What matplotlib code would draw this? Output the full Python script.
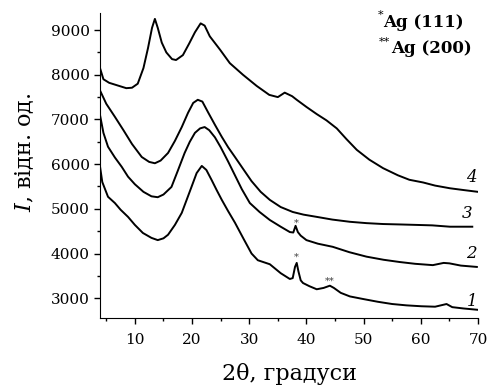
import numpy as np
import matplotlib
matplotlib.use("Agg")
import matplotlib.pyplot as plt
from matplotlib.ticker import MultipleLocator

plt.rcParams['font.family'] = 'DejaVu Serif'
plt.rcParams['mathtext.fontset'] = 'dejavuserif'

# ================= DATA =================
x4 = [3.9, 4.5, 5.5, 7, 8.5, 9.5, 10.5, 11.5, 12.3, 13.0, 13.5, 14.0, 14.7, 15.5,
      16.5, 17.2, 18.4, 19.5, 20.5, 21.5, 22.2, 23.1, 24.9, 26.6, 28.9, 31.3,
      33.5, 35, 36.2, 37.5, 38.3, 40, 41.8, 43.5, 45.3, 47, 48.8, 51, 53.4, 56,
      58, 60.4, 62.5, 65.1, 67.5, 70]
y4 = [8150, 7900, 7820, 7760, 7700, 7710, 7800, 8150, 8600, 9050, 9250, 9050, 8720, 8500,
      8350, 8330, 8440, 8700, 8950, 9150, 9100, 8860, 8560, 8260, 8000, 7750,
      7550, 7500, 7600, 7520, 7440, 7280, 7120, 6980, 6800, 6560, 6320, 6100, 5910, 5750,
      5650, 5590, 5520, 5460, 5420, 5380]

x3 = [3.9, 5, 6.5, 8, 9.5, 11.2, 12.5, 13.5, 14.5, 15.8, 17, 18.2, 19.3, 20.2, 21,
      21.8, 22.8, 24, 25.2, 26.3, 27.5, 29, 30.4, 32, 33.6, 35.5, 37.6, 39.5, 41.8,
      44.5, 47.6, 50.5, 53.4, 56.5, 59.3, 62, 65.1, 67, 69]
y3 = [7650, 7350, 7060, 6760, 6450, 6160, 6050, 6020, 6080, 6250, 6520, 6830, 7150, 7370, 7440,
      7400, 7160, 6880, 6610, 6380, 6160, 5880, 5620, 5380, 5200, 5040, 4930, 4870, 4820,
      4760, 4710, 4680, 4660, 4650, 4640, 4630, 4600, 4600, 4600]

x2 = [3.9, 4.5, 5.3, 6.5, 7.7, 8.8, 10, 11.5, 12.9, 14, 15, 16.4, 17.5, 18.7, 19.6,
      20.5, 21.4, 22.2, 23, 24, 25, 26.3, 27.5, 28.7, 30.1, 31.8, 33.6, 35.5, 37.1,
      37.7, 38.1, 38.5, 39, 40, 42, 44.6, 47.5, 50.5, 53.5, 56.3, 59, 62.1, 64, 65,
      67, 69.8]
y2 = [7100, 6700, 6390, 6150, 5940, 5720, 5550, 5380, 5280, 5260, 5320, 5490, 5850, 6250, 6500,
      6700, 6800, 6830, 6760, 6600, 6380, 6060, 5750, 5440, 5130, 4930, 4750, 4600, 4480,
      4470, 4620, 4480, 4400, 4300, 4220, 4150, 4030, 3930, 3860, 3810, 3770, 3740, 3790, 3780,
      3730, 3700]

x1 = [3.9, 4.3, 5.3, 6.5, 7.5, 8.8, 10, 11.4, 12.9, 14, 15, 15.8, 17, 18.2, 19.9,
      20.8, 21.7, 22.5, 23.4, 24.3, 25.2, 26.3, 27.5, 29, 30.4, 31.5, 33.6, 35.5,
      37.1, 37.6, 38.0, 38.3, 38.6, 39.0, 39.4, 40.5, 41.8, 43, 44.1, 44.8, 46,
      47.6, 50, 52.5, 55, 57.5, 60.1, 62.5, 64.5, 65.5, 67.5, 70]
y1 = [5950, 5600, 5270, 5130, 4980, 4820, 4640, 4460, 4350, 4300, 4340, 4420, 4640, 4910, 5490,
      5800, 5960, 5870, 5650, 5420, 5200, 4950, 4690, 4330, 4000, 3850, 3760, 3560,
      3430, 3450, 3700, 3790, 3600, 3400, 3340, 3270, 3200, 3230, 3280, 3230, 3120,
      3040, 2980, 2920, 2870, 2840, 2820, 2810, 2870, 2800, 2770, 2740]

curve_labels = ["1", "2", "3", "4"]
label_x = [68.9, 68.9, 68.1, 68.9]
label_y = [2920, 4010, 4906, 5710]

peak_marks = ["*", "*", "**"]
peak_x = [38.3, 38.3, 44.1]
peak_y = [4680, 3920, 3370]

legend_marks = ["*", "**"]
legend_texts = ["Ag (111)", "Ag (200)"]

# ================= PLOT =================
fig = plt.figure(figsize=(4.88, 3.85), dpi=100)
ax = fig.add_axes([0.2049, 0.174, 0.7746, 0.792])

for xs, ys in [(x1, y1), (x2, y2), (x3, y3), (x4, y4)]:
    ax.plot(xs, ys, color='black', linewidth=1.4)

for lab, lx, ly in zip(curve_labels, label_x, label_y):
    ax.text(lx, ly, lab, fontsize=12, style='italic', ha='center', va='center')

for m, px, py in zip(peak_marks, peak_x, peak_y):
    ax.text(px, py, m, fontsize=7, color='#444444', ha='center', va='center')

# legend-like notes in the top right corner
ax.text(0.741, 0.993, legend_marks[0], transform=ax.transAxes, fontsize=8,
        ha='center', va='center')
ax.text(0.749, 0.970, legend_texts[0], transform=ax.transAxes, fontsize=12,
        fontweight='bold', va='center', ha='left')
ax.text(0.752, 0.905, legend_marks[1], transform=ax.transAxes, fontsize=8,
        ha='center', va='center')
ax.text(0.770, 0.885, legend_texts[1], transform=ax.transAxes, fontsize=12,
        fontweight='bold', va='center', ha='left')

ax.set_xlim(3.9, 70)
ax.set_ylim(2557, 9380)
ax.xaxis.set_major_locator(MultipleLocator(10))
ax.xaxis.set_minor_locator(MultipleLocator(5))
ax.yaxis.set_major_locator(MultipleLocator(1000))
ax.yaxis.set_minor_locator(MultipleLocator(500))
ax.set_xticks(np.arange(10, 71, 10))
ax.set_yticks(np.arange(3000, 9001, 1000))

for side in ['top', 'right']:
    ax.spines[side].set_visible(False)
ax.tick_params(which='major', direction='out', length=4, width=1, labelsize=11)
ax.tick_params(which='minor', direction='out', length=2.5, width=1)
ax.tick_params(axis='x', which='major', pad=7)

ax.set_xlabel("2θ, градуси", fontsize=16)
ax.set_ylabel("$I$, відн. од.", fontsize=16)
ax.xaxis.set_label_coords(0.5, -0.148)
ax.yaxis.set_label_coords(-0.168, 0.545)

fig.savefig("out.png", dpi=100)
